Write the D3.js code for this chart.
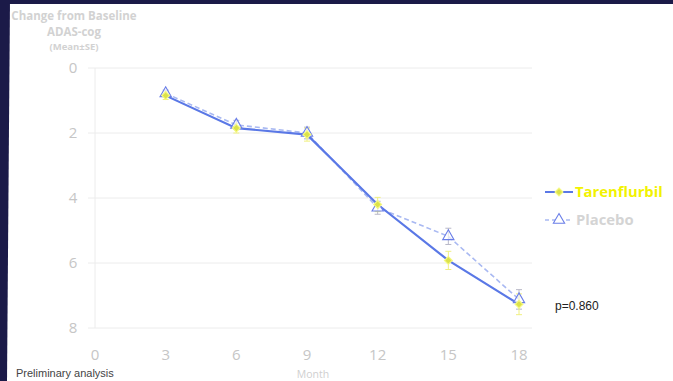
<!DOCTYPE html>
<html><head><meta charset="utf-8">
<script src="https://cdn.jsdelivr.net/npm/d3@7"></script>
<style>html,body{margin:0;padding:0;background:#fff;}svg{display:block;}</style>
</head><body>
<svg id="c" width="673" height="381"></svg>
<script>
const months = [3, 6, 9, 12, 15, 18];
const tarenflurbil = [0.85, 1.85, 2.05, 4.2, 5.92, 7.27];
const tarenSE = [0.12, 0.15, 0.2, 0.22, 0.28, 0.32];
const placebo = [0.78, 1.75, 2.0, 4.3, 5.18, 7.12];
const placeboSE = [0.1, 0.14, 0.18, 0.2, 0.25, 0.3];
const xTicks = [0, 3, 6, 9, 12, 15, 18];
const yTicks = [0, 2, 4, 6, 8];
const seriesNames = ["Tarenflurbil", "Placebo"];
const titleLines = ["Change from Baseline", "ADAS-cog", "(Mean\u00b1SE)"];
const pText = "p=0.860";
const noteText = "Preliminary analysis";
const xTitle = "Month";

const svg = d3.select("#c");
svg.append("rect").attr("width",673).attr("height",381).attr("fill","#fff");
svg.append("rect").attr("x",0).attr("y",0).attr("width",673).attr("height",4).attr("fill","#1b1a48");
svg.append("path").attr("d","M0,0 L10,0 L7,381 L0,381 Z").attr("fill","#1b1a48");

const x = d3.scaleLinear().domain([0,18]).range([95,519]);
const y = d3.scaleLinear().domain([0,8]).range([68,328]);

svg.append("g").selectAll("line").data(yTicks).join("line")
  .attr("x1",88).attr("x2",532).attr("y1",d=>y(d)).attr("y2",d=>y(d))
  .attr("stroke","#ececec").attr("stroke-width",1);
svg.append("line").attr("x1",95).attr("x2",95).attr("y1",y(0)).attr("y2",y(8))
  .attr("stroke","#ececec");

svg.append("g").selectAll("text").data(yTicks).join("text")
  .attr("x",73).attr("y",d=>y(d)+5).attr("text-anchor","middle")
  .attr("font-family","Open Sans, sans-serif").attr("font-size",15)
  .attr("fill","#c6c6c6").text(d=>d);

svg.append("g").selectAll("text").data(xTicks).join("text")
  .attr("x",d=>x(d)).attr("y",360).attr("text-anchor","middle")
  .attr("font-family","Open Sans, sans-serif").attr("font-size",15)
  .attr("fill","#c6c6c6").text(d=>d);

svg.append("text").attr("x",313).attr("y",378).attr("text-anchor","middle")
  .attr("font-family","Open Sans, sans-serif").attr("font-size",10.5)
  .attr("fill","#cfcfcf").text(xTitle);

const tg = svg.append("g").attr("font-family","Open Sans, sans-serif").attr("font-weight","bold").attr("fill","#d2d2d2").attr("text-anchor","middle");
tg.append("text").attr("x",74).attr("y",20).attr("font-size",11.5).text(titleLines[0]);
tg.append("text").attr("x",74).attr("y",36).attr("font-size",11.5).text(titleLines[1]);
tg.append("text").attr("x",74).attr("y",50).attr("font-size",9.5).text(titleLines[2]);

const tColor = "#5a78e6", pColor = "#a9b9f2";
const line = d3.line().x(d=>x(d[0])).y(d=>y(d[1]));
const tData = months.map((m,i)=>[m,tarenflurbil[i],tarenSE[i]]);
const pData = months.map((m,i)=>[m,placebo[i],placeboSE[i]]);

function errBars(data, color){
  const g = svg.append("g").attr("stroke",color).attr("stroke-width",1);
  data.forEach(d=>{
    g.append("line").attr("x1",x(d[0])).attr("x2",x(d[0])).attr("y1",y(d[1]-d[2])).attr("y2",y(d[1]+d[2]));
    [d[1]-d[2], d[1]+d[2]].forEach(v=>g.append("line").attr("x1",x(d[0])-3).attr("x2",x(d[0])+3).attr("y1",y(v)).attr("y2",y(v)));
  });
}
errBars(pData, "#b8b8c8");
errBars(tData, "#f0f080");

svg.append("path").datum(pData).attr("d",line).attr("fill","none")
  .attr("stroke",pColor).attr("stroke-width",1.6).attr("stroke-dasharray","5,3");
svg.append("path").datum(tData).attr("d",line).attr("fill","none")
  .attr("stroke",tColor).attr("stroke-width",2.2);

const tri = d3.symbol().type(d3.symbolTriangle).size(55);
const dia = d3.symbol().type(d3.symbolSquare).size(30);
svg.append("g").selectAll("path").data(pData).join("path")
  .attr("d",tri).attr("transform",d=>`translate(${x(d[0])},${y(d[1])})`)
  .attr("fill","#fff").attr("fill-opacity",0.6).attr("stroke","#6a7ee8").attr("stroke-width",1.1);
svg.append("g").selectAll("path").data(tData).join("path")
  .attr("d",dia).attr("transform",d=>`translate(${x(d[0])},${y(d[1])}) rotate(45)`)
  .attr("fill","#dce24a").attr("stroke","#f4f880").attr("stroke-width",1.2);

const lg = svg.append("g");
lg.append("line").attr("x1",545).attr("x2",573).attr("y1",192).attr("y2",192).attr("stroke",tColor).attr("stroke-width",2);
lg.append("path").attr("d",dia).attr("transform","translate(559,192) rotate(45)").attr("fill","#dce24a").attr("stroke","#f4f880").attr("stroke-width",1.2);
lg.append("text").attr("x",575).attr("y",197).attr("font-family","Open Sans, sans-serif").attr("font-weight","bold")
  .attr("font-size",14.8).attr("fill","#f2f200").text(seriesNames[0]);
lg.append("line").attr("x1",545).attr("x2",573).attr("y1",220).attr("y2",220).attr("stroke",pColor).attr("stroke-width",1.6).attr("stroke-dasharray","4,3");
lg.append("path").attr("d",tri).attr("transform","translate(559,220)").attr("fill","#fff").attr("stroke","#6a7ee8").attr("stroke-width",1.1);
lg.append("text").attr("x",576).attr("y",225).attr("font-family","Open Sans, sans-serif").attr("font-weight","bold")
  .attr("font-size",14.8).attr("fill","#d4d4d4").text(seriesNames[1]);

svg.append("text").attr("x",555).attr("y",310).attr("font-family","Liberation Sans, Arial, sans-serif")
  .attr("font-size",12).attr("fill","#222").text(pText);
svg.append("text").attr("x",16).attr("y",377).attr("font-family","Liberation Sans, Arial, sans-serif")
  .attr("font-size",11).attr("fill","#444").text(noteText);
</script>
</body></html>
